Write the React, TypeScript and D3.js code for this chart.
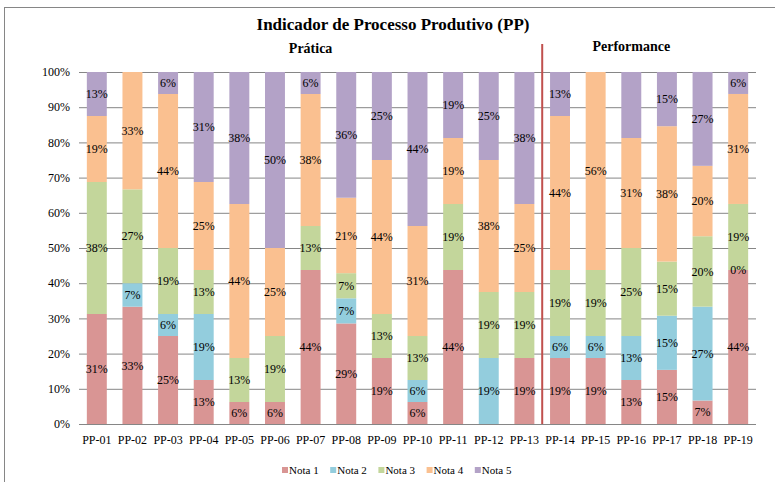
import React from "react";
import * as d3 from "d3";

const categories = ["PP-01","PP-02","PP-03","PP-04","PP-05","PP-06","PP-07","PP-08","PP-09","PP-10","PP-11","PP-12","PP-13","PP-14","PP-15","PP-16","PP-17","PP-18","PP-19"];
const seriesNames = ["Nota 1","Nota 2","Nota 3","Nota 4","Nota 5"];
const nota1 = [31.25, 33.33, 25, 12.5, 6.25, 6.25, 43.75, 28.57, 18.75, 6.25, 43.75, 0, 18.75, 18.75, 18.75, 12.5, 15.38, 6.67, 43.75];
const nota2 = [0, 6.67, 6.25, 18.75, 0, 0, 0, 7.14, 0, 6.25, 0, 18.75, 0, 6.25, 6.25, 12.5, 15.38, 26.67, 0.01];
const nota3 = [37.5, 26.67, 18.75, 12.5, 12.5, 18.75, 12.5, 7.14, 12.5, 12.5, 18.75, 18.75, 18.75, 18.75, 18.75, 25, 15.38, 20, 18.75];
const nota4 = [18.75, 33.33, 43.75, 25, 43.75, 25, 37.5, 21.43, 43.75, 31.25, 18.75, 37.5, 25, 43.75, 56.25, 31.25, 38.46, 20, 31.25];
const nota5 = [12.5, 0, 6.25, 31.25, 37.5, 50, 6.25, 35.71, 25, 43.75, 18.75, 25, 37.5, 12.5, 0, 18.75, 15.38, 26.67, 6.25];
const colors = ["#D99594", "#93CDDD", "#C3D69B", "#FAC090", "#B3A2C7"];
const yTicks = [0, 10, 20, 30, 40, 50, 60, 70, 80, 90, 100];
const hiddenLabels = [["PP-16", "Nota 5"]];
const title = "Indicador de Processo Produtivo (PP)";
const sectionLabels = [
  { text: "Prática", from: "PP-01", to: "PP-13", y: 53 },
  { text: "Performance", from: "PP-14", to: "PP-18", y: 51 },
];
const dividerAfter = "PP-13";

const W = 775, H = 482;
const M = { left: 79, right: 756, top: 72, bottom: 424 };
const FONT = '"Liberation Serif", "Times New Roman", serif';

export default function App() {
  const seriesValues = [nota1, nota2, nota3, nota4, nota5];
  const rows = categories.map((c, i) => {
    const r: any = { cat: c };
    seriesNames.forEach((s, j) => (r[s] = seriesValues[j][i]));
    return r;
  });
  const stacked = d3.stack().keys(seriesNames)(rows);
  const x = d3.scaleBand().domain(categories).range([M.left, M.right]).paddingInner(0.44).paddingOuter(0.22);
  const y = d3.scaleLinear().domain([0, 100]).range([M.bottom, M.top]);
  const step = x.step();
  const divX = (x(dividerAfter) as number) + x.bandwidth() + (step - x.bandwidth()) / 2;
  const isHidden = (c: string, s: string) => hiddenLabels.some(([hc, hs]) => hc === c && hs === s);
  const ts = { fontFamily: FONT };

  return (
    <svg width={W} height={H} style={{ position: "absolute", left: 0, top: 0, background: "#fff" }}>
      <rect x={0} y={0} width={W} height={H} fill="#fff" />
      <rect x={4.5} y={7.5} width={W + 20} height={H + 20} fill="none" stroke="#868686" strokeWidth={1} />
      <text x={393} y={30} textAnchor="middle" fontSize={17} fontWeight="bold" fill="#000" style={ts}>{title}</text>
      {sectionLabels.map((s) => {
        const cx = ((x(s.from) as number) + (x(s.to) as number) + x.bandwidth()) / 2;
        return (
          <text key={s.text} x={cx} y={s.y} textAnchor="middle" fontSize={14} fontWeight="bold" fill="#000" style={ts}>{s.text}</text>
        );
      })}
      {yTicks.map((t) => (
        <g key={t}>
          <line x1={M.left} x2={M.right} y1={y(t) + 0.5} y2={y(t) + 0.5} stroke="#868686" strokeWidth={1} />
          <text x={70} y={y(t)} dy="0.35em" textAnchor="end" fontSize={12} fill="#000" style={ts}>{t + "%"}</text>
        </g>
      ))}
      {stacked.map((layer, j) => (
        <g key={layer.key} fill={colors[j]}>
          {layer.map((d, i) => (
            <rect key={i} x={x(categories[i])} width={x.bandwidth()} y={y(d[1])} height={Math.max(0, y(d[0]) - y(d[1]))} />
          ))}
        </g>
      ))}
      {stacked.map((layer) => (
        <g key={layer.key + "l"}>
          {layer.map((d, i) => {
            const v = d[1] - d[0];
            if (v <= 0 || isHidden(categories[i], layer.key)) return null;
            return (
              <text key={i} x={(x(categories[i]) as number) + x.bandwidth() / 2} y={y((d[0] + d[1]) / 2)} dy="0.35em" textAnchor="middle" fontSize={12} fill="#000" style={ts}>
                {Math.round(v) + "%"}
              </text>
            );
          })}
        </g>
      ))}
      <line x1={divX} x2={divX} y1={44} y2={M.bottom} stroke="#C0504D" strokeWidth={2} />
      {categories.map((c) => (
        <text key={c} x={(x(c) as number) + x.bandwidth() / 2} y={444} textAnchor="middle" fontSize={12} fill="#000" style={ts}>{c}</text>
      ))}
      {seriesNames.map((s, j) => (
        <g key={s} transform={`translate(${282 + j * 48.2},470)`}>
          <rect x={0} y={-3} width={6} height={6} fill={colors[j]} />
          <text x={7} y={0} dy="0.35em" fontSize={11} fill="#000" style={ts}>{s}</text>
        </g>
      ))}
    </svg>
  );
}
